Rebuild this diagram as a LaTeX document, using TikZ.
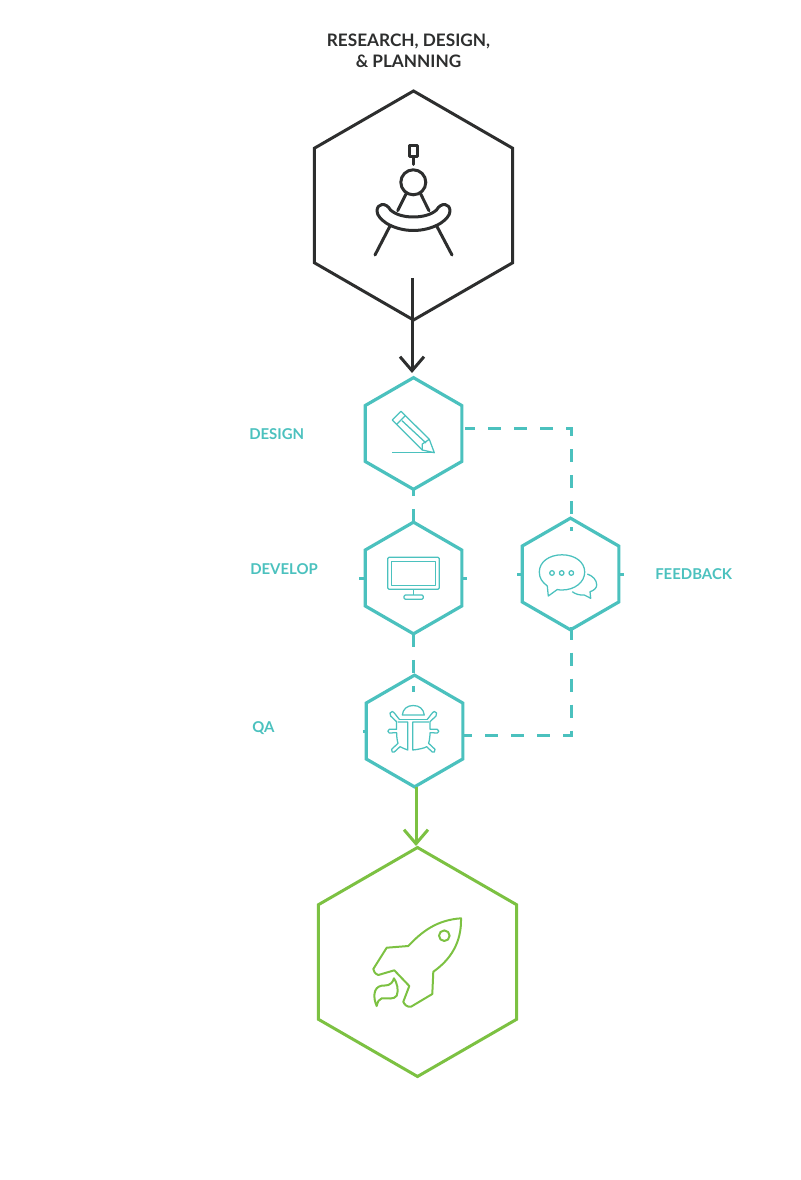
\documentclass[tikz,border=0pt]{standalone}
\usepackage{fontspec}
\setmainfont{Lato}
\usetikzlibrary{arrows.meta, positioning, shapes.geometric}
\definecolor{inkdark}{HTML}{2D2E2E}
\definecolor{inkteal}{HTML}{4BC1BE}
\definecolor{inkgreen}{HTML}{7CC142}

\begin{document}
\begin{tikzpicture}[x = 0.75pt, y = -0.75pt,
		hexa/.style = {regular polygon, regular polygon sides=6, shape border rotate=90, draw, inner sep=0pt, outer sep=0pt},
		hexbig/.style = {hexa, minimum size=171.75pt, line width=2.25pt},
		hexsmall/.style = {hexa, minimum size=83.75pt, line width=2.4pt, draw=inkteal},
		steplabel/.style = {font=\fontsize{11.2}{13}\bfseries, text=inkteal, anchor=west, inner sep=0pt},
		flowline/.style = {line width=2.25pt, -{Straight Barb[length=10.5pt, width=18pt, line width=2.25pt]}},
		loopline/.style = {line width=2.25pt, draw=inkteal, dash pattern=on 9.75pt off 9.75pt},
		tickline/.style = {line width=2.25pt, draw=inkteal},
		iconthick/.style = {draw=inkdark, line width=2.25pt, line cap=round, line join=round},
		iconteal/.style = {draw=inkteal, line width=0.95pt, line join=round},
		icongreen/.style = {draw=inkgreen, line width=1.5pt, line join=round}]
	\useasboundingbox (0,0) rectangle (800,1180);

	\node[align=center, font=\fontsize{12.9}{15.75}\bfseries, text=inkdark, inner sep=0pt] (title) at (408.5,51) {RESEARCH, DESIGN,\\\& PLANNING};

	\node[hexbig, draw=inkdark] (research) at (413.5,205.5) {};
	\node[hexsmall] (design) at (413.5,433.5) {};
	\node[hexsmall] (develop) at (413.5,578) {};
	\node[hexsmall] (feedback) at (570.5,574) {};
	\node[hexsmall] (qa) at (414.5,731) {};
	\node[hexbig, draw=inkgreen] (launch) at (417.5,962) {};

	\node[steplabel] (ldesign) at (249,434) {DESIGN};
	\node[steplabel] (ldevelop) at (250,569) {DEVELOP};
	\node[steplabel] (lfeedback) at (655,574) {FEEDBACK};
	\node[steplabel] (lqa) at (252,728) {QA};

	\coordinate (arrowstart) at (412,278);
	\coordinate (arrowend) at (412,373);
	\coordinate (shipstart) at (416,787);
	\coordinate (shipend) at (416,846);
	\coordinate (designout) at (465,428);
	\coordinate (cornertop) at (571,428);
	\coordinate (feedbackin) at (571,531);
	\coordinate (feedbackout) at (571,626.5);
	\coordinate (cornerbottom) at (571,735);
	\coordinate (qaout) at (463,735);
	\coordinate (qain) at (413.5,691.5);
	\coordinate (devleft) at (359,578);
	\coordinate (devright) at (467,578);
	\coordinate (fbleft) at (517,574);
	\coordinate (fbright) at (624,574);
	\coordinate (qaleft) at (363,731);

	\draw[flowline, draw=inkdark] (arrowstart) -- (arrowend);
	\draw[flowline, draw=inkgreen] (shipstart) -- (shipend);
	\draw[loopline, dash phase=2.25pt] (designout) -- (cornertop) -- (feedbackin);
	\draw[loopline] (feedbackout) -- (cornerbottom) -- (qaout);
	\draw[loopline] (develop.north) -- (design.south);
	\draw[loopline] (develop.south) -- (qain);
	\draw[tickline] (develop.west) -- (devleft);
	\draw[tickline] (develop.east) -- (devright);
	\draw[tickline] (feedback.west) -- (fbleft);
	\draw[tickline] (feedback.east) -- (fbright);
	\draw[tickline] (qa.west) -- (qaleft);

	\draw[iconthick] (409.2,146) rectangle (417.5,157);
	\draw[iconthick] (413.3,157) -- (413.3,164.5);
	\draw[iconthick] (413.3,182.3) circle (12.5);
	\draw[iconthick] (406,194) -- (397.7,210.7);
	\draw[iconthick] (420.7,194) -- (429,210.7);
	\draw[iconthick] (390.5,210) .. controls (396,215) and (405,217) .. (413.3,217) .. controls (422,217) and (431,215) .. (436.5,210) .. controls (441,202) and (450,203) .. (450,211) .. controls (450,216) and (445,220) .. (441,223) .. controls (433,228) and (423,230.5) .. (413.3,230.5) .. controls (404,230.5) and (394,228) .. (386,223) .. controls (382,220) and (377,216) .. (377,211) .. controls (377,203) and (386,202) .. (390.5,210) -- cycle;
	\draw[iconthick] (390,226) -- (375,255);
	\draw[iconthick] (436.7,226) -- (452,255);

	\draw[iconteal] (392.3,452.7) -- (434.3,452.7);
	\draw[iconteal] (401,411.3) -- (392.3,420) -- (422.3,450) -- (434.3,452.7) -- (429.3,439.3) -- cycle;
	\draw[iconteal] (396.5,424.5) -- (405.5,415.5);
	\draw[iconteal] (402,420.7) -- (426,443);
	\draw[iconteal] (422.3,450) -- (422.3,444) -- (429.3,439.3);

	\draw[iconteal, rounded corners=1pt] (387.7,557.3) rectangle (439.3,589.3);
	\draw[iconteal] (391.7,561.3) rectangle (435.7,585.3);
	\draw[iconteal] (413.5,589.3) -- (413.5,595);
	\draw[iconteal, rounded corners=1pt] (404,595) rectangle (423.3,599.3);

	\draw[iconteal] (547.3,586) .. controls (542,582) and (539.3,578) .. (539.3,572) .. controls (539.3,562) and (549,554.8) .. (562,554.8) .. controls (575,554.8) and (584.7,562) .. (584.7,572) .. controls (584.7,582) and (575,590) .. (562,590) .. controls (560,590) and (558.5,589.8) .. (557.3,589.5) -- (548.3,596) -- cycle;
	\foreach \dotx in {552,561.7,571.3}
		\draw[iconteal] (\dotx,573) circle (2.3);
	\draw[iconteal] (587.3,574) .. controls (593,576) and (596.7,580) .. (596.7,585) .. controls (596.7,588) and (594,590.5) .. (590,591.7) -- (590.7,598.3) -- (584.3,595) .. controls (580,595.5) and (575,594) .. (572.3,591.7);

	\draw[iconteal] (402.3,715) .. controls (403,709) and (407,705.5) .. (413.3,705.5) .. controls (419.5,705.5) and (423.5,709) .. (424.3,715) -- cycle;
	\draw[iconteal] (399,719.3) -- (428,719.3);
	\foreach \s/\e in {1/5.5,-1/-0.5} {
		\begin{scope}[shift={(413.3,0)}, xscale=\s]
			\draw[iconteal] (-14,719.3) .. controls (-17,716) and (-19,712) .. (-21,711.5) .. controls (-23.5,711.5) and (-24,714) .. (-22.7,716) -- (-16.7,721.7) -- (-16.7,729.3) -- (-24,729.3) .. controls (-26,729.5) and (-26,733) .. (-24,733) -- (-16.7,732.7) .. controls (-16.7,737) and (-16,741) .. (-15.3,743.3) -- (-21.7,749.3) .. controls (-22,752) and (-20.5,753) .. (-19,752) -- (-13.3,746.7) .. controls (-11,748) and (-8,749) .. (-\e,750) -- (-\e,722) -- (-15.5,722);
		\end{scope}
	}

	\draw[icongreen] (461,918.3) .. controls (436.7,920) and (421.7,931.7) .. (408.3,946) -- (386.7,947.7) -- (373.3,969) .. controls (373.5,971) and (375,974) .. (378.3,975) -- (394.3,970.3) -- (409.3,986) -- (403.3,1001.7) .. controls (404,1004) and (407,1007.5) .. (411,1006.7) -- (432.3,994) -- (433.3,971.7) .. controls (450,960) and (461.7,943) .. (461,918.3) -- cycle;
	\draw[icongreen] (444.3,935.7) circle (5.3);
	\draw[icongreen] (376.7,1006) .. controls (373,998) and (373,987) .. (381.7,985.7) .. controls (386,985) and (391,987) .. (394,978.3) .. controls (397,983) and (399,990) .. (396.7,995.7) .. controls (394,1000) and (387,998) .. (381.7,998.3) .. controls (379,999) and (377.5,1002) .. (376.7,1006) -- cycle;
\end{tikzpicture}
\end{document}
